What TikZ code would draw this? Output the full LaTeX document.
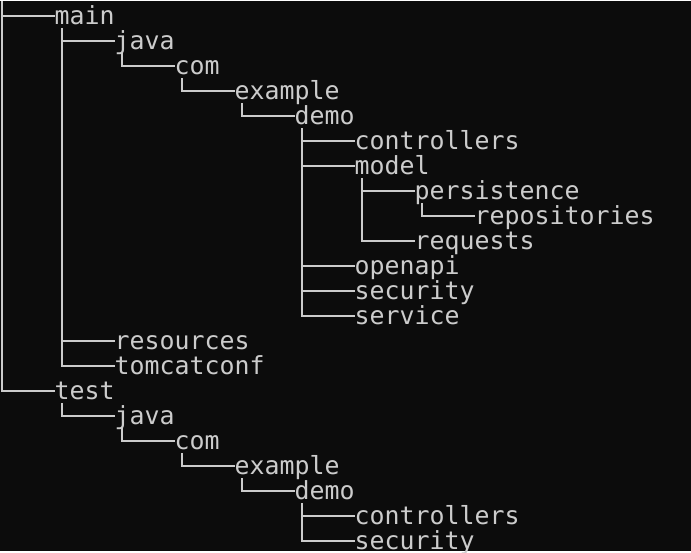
\documentclass[tikz,border=0pt]{standalone}
\usepackage{fontspec}
\usepackage{xcolor}
\usepackage{tikz}
\newfontfamily\termfont{DejaVu Sans Mono}
\definecolor{termbg}{HTML}{0C0C0C}
\definecolor{termfg}{HTML}{CCCCCC}
\tikzset{%
	item/.style={anchor=west, inner sep=0pt, text=termfg, text height=16.4pt,%
		text depth=0pt, minimum height=24pt, font=\termfont\fontsize{24.9}{25}\selectfont},
	branch/.style={draw=termfg, line width=1.8pt}
}

\begin{document}
\begin{tikzpicture}[x=1pt, y=-1pt]
	\fill[termbg] (0,0) rectangle (691,550);

	\coordinate (root) at (2,0);
	\node[item] (main) at (54.5,15) {main};
	\node[item] (java1) at (114.5,40) {java};
	\node[item] (com1) at (174.5,65) {com};
	\node[item] (ex1) at (234.5,90) {example};
	\node[item] (demo1) at (294.5,115) {demo};
	\node[item] (ctrl1) at (354.5,140) {controllers};
	\node[item] (model) at (354.5,165) {model};
	\node[item] (persist) at (414.5,190) {persistence};
	\node[item] (repo) at (474.5,215) {repositories};
	\node[item] (req) at (414.5,240) {requests};
	\node[item] (openapi) at (354.5,265) {openapi};
	\node[item] (sec1) at (354.5,290) {security};
	\node[item] (service) at (354.5,315) {service};
	\node[item] (res) at (114.5,340) {resources};
	\node[item] (tomcat) at (114.5,365) {tomcatconf};
	\node[item] (test) at (54.5,390) {test};
	\node[item] (java2) at (114.5,415) {java};
	\node[item] (com2) at (174.5,440) {com};
	\node[item] (ex2) at (234.5,465) {example};
	\node[item] (demo2) at (294.5,490) {demo};
	\node[item] (ctrl2) at (354.5,515) {controllers};
	\node[item] (sec2) at (354.5,540) {security};

	\draw[branch] (root) |- (main.west);
	\draw[branch] (root) |- (test.west);
	\draw[branch] ([xshift=7.5pt]main.south west) |- (java1.west);
	\draw[branch] ([xshift=7.5pt]main.south west) |- (res.west);
	\draw[branch] ([xshift=7.5pt]main.south west) |- (tomcat.west);
	\draw[branch] ([xshift=7.5pt]java1.south west) |- (com1.west);
	\draw[branch] ([xshift=7.5pt]com1.south west) |- (ex1.west);
	\draw[branch] ([xshift=7.5pt]ex1.south west) |- (demo1.west);
	\draw[branch] ([xshift=7.5pt]demo1.south west) |- (ctrl1.west);
	\draw[branch] ([xshift=7.5pt]demo1.south west) |- (model.west);
	\draw[branch] ([xshift=7.5pt]demo1.south west) |- (openapi.west);
	\draw[branch] ([xshift=7.5pt]demo1.south west) |- (sec1.west);
	\draw[branch] ([xshift=7.5pt]demo1.south west) |- (service.west);
	\draw[branch] ([xshift=7.5pt]model.south west) |- (persist.west);
	\draw[branch] ([xshift=7.5pt]model.south west) |- (req.west);
	\draw[branch] ([xshift=7.5pt]persist.south west) |- (repo.west);
	\draw[branch] ([xshift=7.5pt]test.south west) |- (java2.west);
	\draw[branch] ([xshift=7.5pt]java2.south west) |- (com2.west);
	\draw[branch] ([xshift=7.5pt]com2.south west) |- (ex2.west);
	\draw[branch] ([xshift=7.5pt]ex2.south west) |- (demo2.west);
	\draw[branch] ([xshift=7.5pt]demo2.south west) |- (ctrl2.west);
	\draw[branch] ([xshift=7.5pt]demo2.south west) |- (sec2.west);
\end{tikzpicture}
\end{document}
